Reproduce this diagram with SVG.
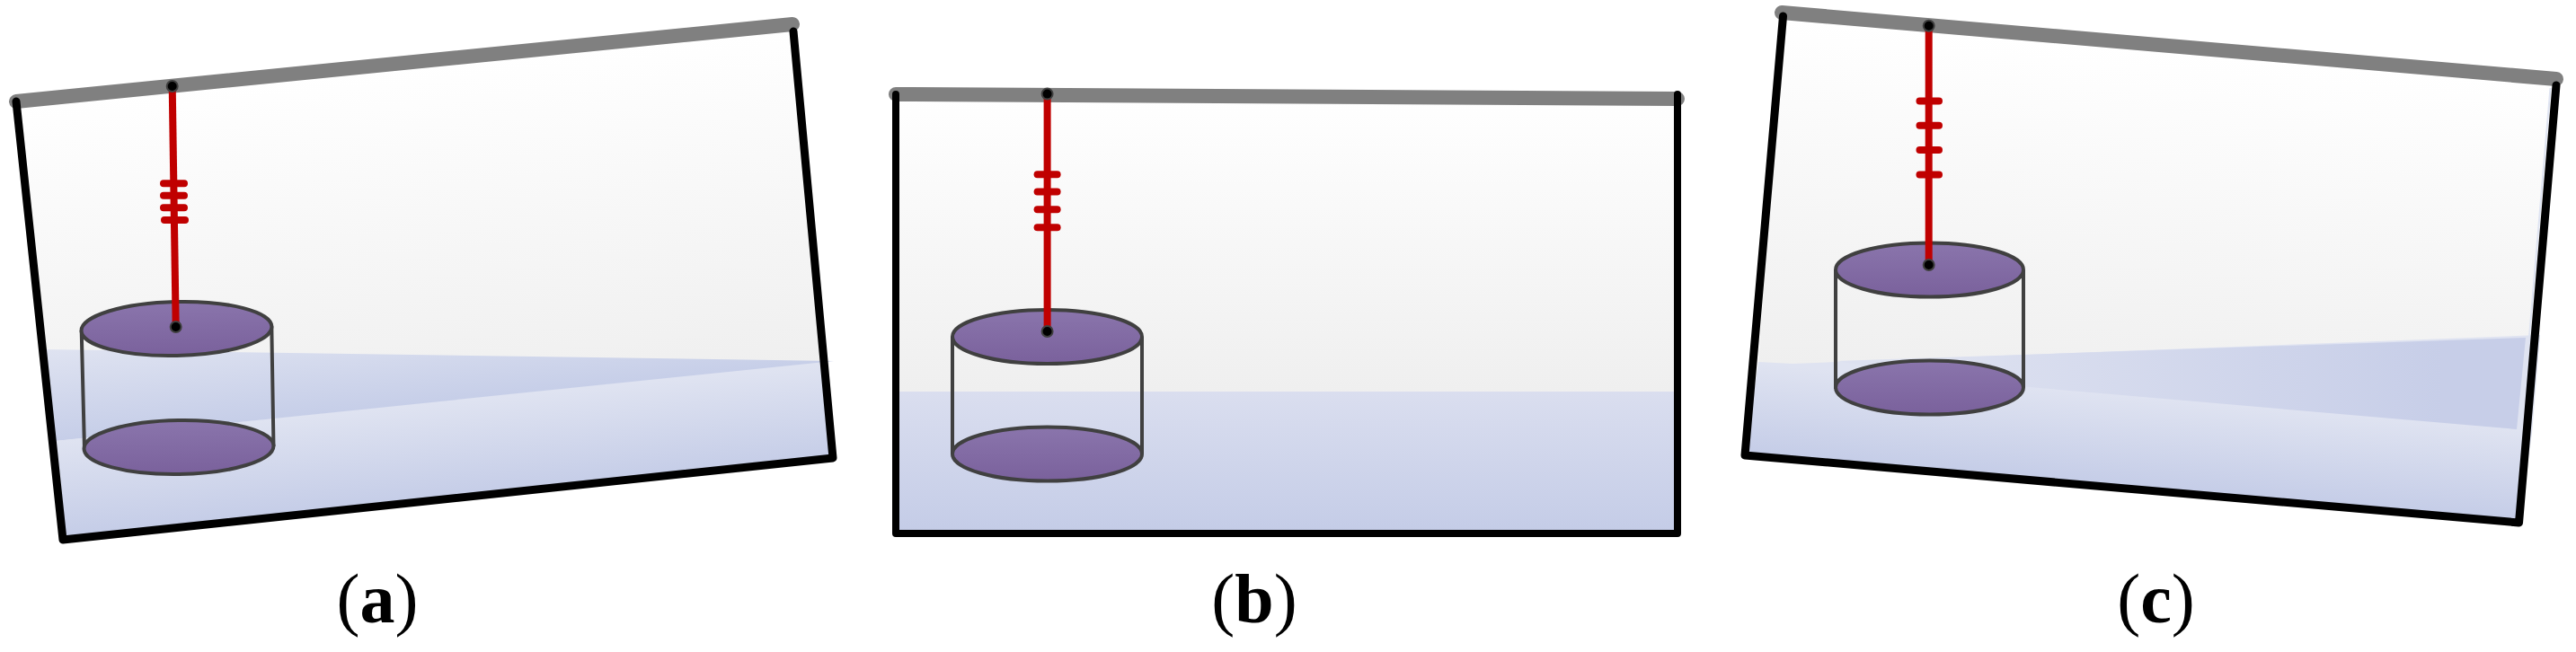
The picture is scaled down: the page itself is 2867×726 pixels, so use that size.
<svg xmlns="http://www.w3.org/2000/svg" width="2867" height="726" viewBox="0 0 2867 726">
<style>
.bar{fill:none;stroke:#808080;stroke-width:16;stroke-linecap:round}
.frame{fill:none;stroke:#000;stroke-width:9;stroke-linejoin:round;stroke-linecap:round}
.frameb{stroke-width:8}
.disc{fill:url(#purple);stroke:#404040;stroke-width:4}
.side{fill:none;stroke:#404040;stroke-width:4}
.rod{fill:none;stroke:#c00000;stroke-width:8}
.band{fill:none;stroke:#c00000;stroke-width:8;stroke-linecap:round}
.pin{fill:#000;stroke:#404040;stroke-width:2}
.halo{fill:none;stroke:#dfe4f2;stroke-width:2}
.cap{font-family:"Liberation Serif",serif;font-size:78px;text-anchor:middle;fill:#000}
.cap tspan{font-weight:bold}
</style>
<defs>
<linearGradient id="purple" x1="0" y1="0" x2="0" y2="1"><stop offset="0" stop-color="#8a75ac"/><stop offset="1" stop-color="#7a619c"/></linearGradient>
<linearGradient id="airA" gradientUnits="userSpaceOnUse" x1="18" y1="113" x2="56" y2="491"><stop offset="0" stop-color="#fff"/><stop offset="1" stop-color="#efefef"/></linearGradient>
<linearGradient id="waterA" gradientUnits="userSpaceOnUse" x1="61" y1="491" x2="72" y2="601"><stop offset="0" stop-color="#dfe3f1"/><stop offset="1" stop-color="#c4cce7"/></linearGradient>
<linearGradient id="wedgeA" gradientUnits="userSpaceOnUse" x1="49" y1="389" x2="59" y2="490.5"><stop offset="0" stop-color="#dfe3f1"/><stop offset="1" stop-color="#c6cee8"/></linearGradient>
<linearGradient id="airB" gradientUnits="userSpaceOnUse" x1="0" y1="105" x2="0" y2="436"><stop offset="0" stop-color="#fff"/><stop offset="1" stop-color="#efefef"/></linearGradient>
<linearGradient id="waterB" gradientUnits="userSpaceOnUse" x1="0" y1="436" x2="0" y2="594"><stop offset="0" stop-color="#dadeef"/><stop offset="1" stop-color="#c4cce7"/></linearGradient>
<linearGradient id="airC" gradientUnits="userSpaceOnUse" x1="1984" y1="18" x2="1951" y2="403.6"><stop offset="0" stop-color="#fff"/><stop offset="1" stop-color="#efefef"/></linearGradient>
<linearGradient id="waterC" gradientUnits="userSpaceOnUse" x1="1957" y1="405" x2="1948" y2="508"><stop offset="0" stop-color="#dfe3f1"/><stop offset="1" stop-color="#c4cce7"/></linearGradient>
<linearGradient id="wedgeC" gradientUnits="userSpaceOnUse" x1="2150" y1="0" x2="2720" y2="0"><stop offset="0" stop-color="#dde1f0"/><stop offset="1" stop-color="#c7cee8"/></linearGradient>
</defs>

<g id="panel-a">
<polygon points="18,113 883,30 917,402 61,491" fill="url(#airA)"/>
<polygon points="61,491 917,402 927,510 70,601" fill="url(#waterA)"/>
<polygon points="49,389 928,402 61,491" fill="url(#wedgeA)"/>
<line class="halo" x1="66" y1="525" x2="71" y2="596"/>
<line class="bar" x1="18" y1="113" x2="882" y2="27"/>
<polyline class="frame" points="18,113 70,601 927,510 883,35"/>
<g id="cylinder-a">
<path class="side" d="M90.7,368 L94,500 M302.3,363.5 L304.5,497"/>
<ellipse class="disc" cx="199" cy="498" rx="105.5" ry="30" transform="rotate(-0.9 199 498)"/>
<ellipse class="disc" cx="196.5" cy="366" rx="106" ry="30" transform="rotate(-1.3 196.5 366)"/>
</g>
<g id="rod-a">
<line class="rod" x1="191.7" y1="96" x2="195.7" y2="364"/>
<line class="band" x1="182" y1="204.3" x2="205" y2="204.3"/>
<line class="band" x1="182" y1="217.7" x2="205" y2="217.7"/>
<line class="band" x1="182" y1="231.3" x2="205" y2="231.3"/>
<line class="band" x1="183" y1="245" x2="206" y2="245"/>
<circle class="pin" cx="191.7" cy="96" r="6"/>
<circle class="pin" cx="195.7" cy="364" r="6"/>
</g>
<text class="cap" x="420" y="693">(<tspan>a</tspan>)</text>
</g>

<g id="panel-b">
<rect x="997" y="105" width="870" height="331" fill="url(#airB)"/>
<rect x="997" y="436" width="870" height="158" fill="url(#waterB)"/>
<line class="bar" x1="997" y1="105" x2="1867" y2="110"/>
<polyline class="frame frameb" points="997,105 997,594 1867,594 1867,105"/>
<g id="cylinder-b">
<path class="side" d="M1060,375 L1060,505.5 M1271,375 L1271,505.5"/>
<ellipse class="disc" cx="1165.5" cy="505.5" rx="105.5" ry="30"/>
<ellipse class="disc" cx="1165.5" cy="375" rx="105.5" ry="30"/>
</g>
<g id="rod-b">
<line class="rod" x1="1165.6" y1="104.6" x2="1165.6" y2="369"/>
<line class="band" x1="1154.6" y1="194.2" x2="1176.6" y2="194.2"/>
<line class="band" x1="1154.6" y1="213.4" x2="1176.6" y2="213.4"/>
<line class="band" x1="1154.6" y1="233.3" x2="1176.6" y2="233.3"/>
<line class="band" x1="1154.6" y1="253.3" x2="1176.6" y2="253.3"/>
<circle class="pin" cx="1165.6" cy="104.6" r="6"/>
<circle class="pin" cx="1165.6" cy="369" r="6"/>
</g>
<text class="cap" x="1396" y="693">(<tspan>b</tspan>)</text>
</g>

<g id="panel-c">
<polygon points="1984,14 2845,88 2812,479 1957,405" fill="url(#airC)"/>
<polygon points="1957,403 1995,405 2827,373 2818,482 2803.5,582 1942,507" fill="url(#waterC)"/>
<polygon points="2043,402 2811,376 2801,478 2200,426" fill="url(#wedgeC)"/>
<line class="halo" x1="2838.5" y1="98" x2="2815" y2="375"/>
<line class="bar" x1="1983" y1="14" x2="2845" y2="88"/>
<polyline class="frame" points="1984.5,18 1942,507 2803.5,582 2845,95"/>
<g id="cylinder-c">
<path class="side" d="M2043,300 L2043,433 M2252,301 L2252,431.5"/>
<ellipse class="disc" cx="2147.5" cy="431.5" rx="104.5" ry="30"/>
<ellipse class="disc" cx="2147.5" cy="300.5" rx="104.5" ry="30"/>
</g>
<g id="rod-c">
<line class="rod" x1="2146.7" y1="28.7" x2="2146.7" y2="295"/>
<line class="band" x1="2136.5" y1="112.5" x2="2158" y2="112.5"/>
<line class="band" x1="2136.5" y1="139.8" x2="2158" y2="139.8"/>
<line class="band" x1="2136.5" y1="167" x2="2158" y2="167"/>
<line class="band" x1="2136.5" y1="194.4" x2="2158" y2="194.4"/>
<circle class="pin" cx="2146.7" cy="28.7" r="6"/>
<circle class="pin" cx="2146.7" cy="295" r="6"/>
</g>
<text class="cap" x="2399.5" y="693">(<tspan>c</tspan>)</text>
</g>
</svg>
